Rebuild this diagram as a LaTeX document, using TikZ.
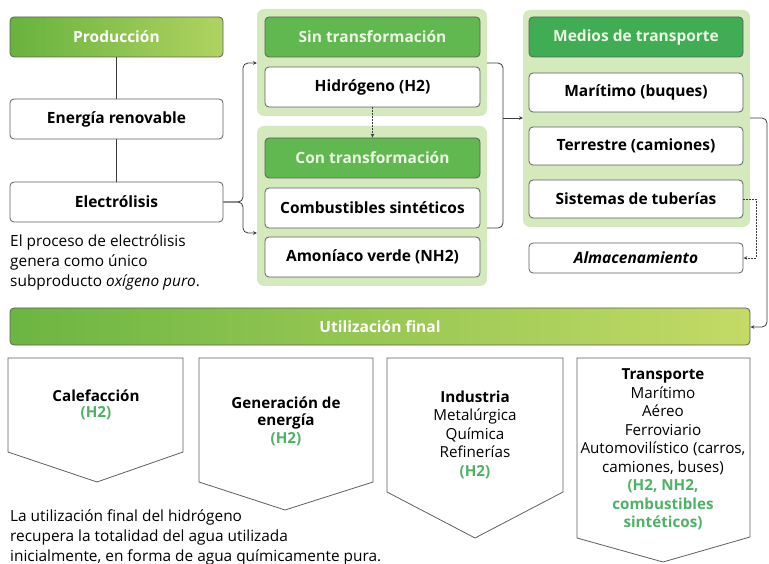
\documentclass[tikz,border=0pt]{standalone}
\usepackage{fontspec}
\setmainfont{Open Sans}
\usetikzlibrary{arrows.meta}
\definecolor{lineC}{RGB}{60,60,60}
\definecolor{boxB}{RGB}{95,95,95}
\definecolor{gDark}{RGB}{104,178,62}
\definecolor{gLight}{RGB}{176,211,96}
\definecolor{uDark}{RGB}{108,181,66}
\definecolor{uLight}{RGB}{196,218,102}
\definecolor{hdrG}{RGB}{98,184,80}
\definecolor{hdrM}{RGB}{64,172,84}
\definecolor{panelG}{RGB}{212,233,188}
\definecolor{txtG}{RGB}{78,178,100}
\definecolor{hdrTxt}{RGB}{236,247,228}
\begin{document}
\begin{tikzpicture}[x=1pt,y=-1pt,
  box/.style={draw=boxB,line width=0.8pt,rounded corners=4pt,fill=white,
    minimum width=213pt,minimum height=40pt,inner sep=0pt,
    font=\fontsize{15.5}{18}\selectfont\bfseries},
  hdr/.style={box,fill=hdrG,text=hdrTxt,draw=boxB},
  grad/.style={draw=boxB,line width=0.8pt,rounded corners=4pt,left color=gDark,right color=gLight,
    minimum width=213pt,minimum height=40pt,inner sep=0pt,text=white,
    font=\fontsize{15.5}{18}\selectfont\bfseries},
  panel/.style={fill=panelG,rounded corners=7pt},
  note/.style={inner sep=0pt,align=left,anchor=west,font=\fontsize{15.4}{20}\selectfont},
  conn/.style={draw=lineC,line width=0.8pt},
  tip/.style={-{Stealth[length=4pt,width=3.6pt]}},
  chev/.style={draw=boxB,line width=0.8pt,fill=white},
  usetxt/.style={inner sep=0pt,align=center,font=\fontsize{15.2}{18.5}\selectfont},
  gtxt/.style={text=txtG}
]
\useasboundingbox (0,0) rectangle (769,564);

% panels
\fill[panel] (257,9) rectangle (487,116);
\fill[panel] (257,126) rectangle (487,286);
\fill[panel] (523,10) rectangle (750,227);
\coordinate (pA) at (487,63);
\coordinate (pB) at (487,228);
\coordinate (pC) at (523,118);
\coordinate (inA) at (257,63);
\coordinate (inB) at (257,233);

% left column
\node[grad] (prod) at (116.5,37) {Producción};
\node[box] (ener) at (116.5,119) {Energía renovable};
\node[box] (elec) at (116.5,202) {Electrólisis};
\node[note] (note1) at (10,262) {El proceso de electrólisis\\genera como único\\subproducto \textit{oxígeno puro}.};

% middle column
\node[hdr,minimum width=215pt] (sin) at (372.5,37) {Sin transformación};
\node[box,minimum width=215pt] (hid) at (372.5,87) {Hidrógeno (H2)};
\node[hdr,minimum width=215pt] (con) at (372.5,158) {Con transformación};
\node[box,minimum width=215pt] (comb) at (372.5,208) {Combustibles sintéticos};
\node[box,minimum width=215pt] (amon) at (372.5,257) {Amoníaco verde (NH2)};

% right column
\node[hdr,fill=hdrM,minimum width=214pt] (med) at (636,37) {Medios de transporte};
\node[box,minimum width=214pt,minimum height=39pt] (mar) at (636,92.5) {Marítimo (buques)};
\node[box,minimum width=214pt,minimum height=38pt] (ter) at (636,146) {Terrestre (camiones)};
\node[box,minimum width=214pt,minimum height=38pt] (sis) at (636,199) {Sistemas de tuberías};
\node[box,minimum width=214pt,minimum height=30pt,font=\fontsize{15.5}{18}\selectfont\bfseries\itshape] (alm) at (636,258) {Almacenamiento};

% utilization bar
\node[grad,left color=uDark,right color=uLight,minimum width=740pt,minimum height=37pt] (util) at (380,326.5) {Utilización final};
\coordinate (pD) at (750,118);

% connectors
\draw[conn] (prod.south) -- (ener.north);
\draw[conn] (ener.south) -- (elec.north);
\draw[conn,tip,rounded corners=5pt] (elec.east) -| (243,63) -- (inA);
\draw[conn,tip,rounded corners=5pt] (elec.east) -| (243,233) -- (inB);
\draw[conn,tip,dashed,dash pattern=on 2pt off 1pt] (hid.south) -- (con.north);
\draw[conn,rounded corners=5pt] (pA) -- (503,63) -- (503,228) -- (pB);
\draw[conn,tip] (503,118) -- (pC);
\draw[conn,tip,rounded corners=5pt] (pD) -- (767,118) -- (767,327) -- (util.east |- 0,327);
\draw[conn,tip,dashed,dash pattern=on 2pt off 1pt] (sis.east) -- (756,199) -- (756,258) -- (alm.east);

% chevrons
\draw[chev] (8,358) -- (183,358) -- (183,452) -- (97,482) -- (8,452) -- cycle;
\draw[chev] (199,358) -- (373,358) -- (373,482) -- (285,510) -- (199,482) -- cycle;
\draw[chev] (387,358) -- (563,358) -- (563,492) -- (475,538) -- (387,492) -- cycle;
\draw[chev] (577,358) -- (750,358) -- (750,537) -- (663,562) -- (577,538) -- cycle;

\node[usetxt,font=\fontsize{15.2}{15.5}\selectfont] (cal) at (96,405) {\textbf{Calefacción}\\\textbf{\textcolor{txtG}{(H2)}}};
\node[usetxt,font=\fontsize{15.2}{17.5}\selectfont] (gen) at (286,421) {\textbf{Generación de}\\\textbf{energía}\\\textbf{\textcolor{txtG}{(H2)}}};
\node[usetxt] (ind) at (475,434.5) {\textbf{Industria}\\Metalúrgica\\Química\\Refinerías\\\textbf{\textcolor{txtG}{(H2)}}};
\node[usetxt] (tra) at (663,449.5) {\textbf{Transporte}\\Marítimo\\Aéreo\\Ferroviario\\Automovilístico (carros,\\camiones, buses)\\\textbf{\textcolor{txtG}{(H2, NH2,}}\\\textbf{\textcolor{txtG}{combustibles}}\\\textbf{\textcolor{txtG}{sintéticos)}}};

\node[note] (note2) at (10,537) {La utilización final del hidrógeno\\recupera la totalidad del agua utilizada\\inicialmente, en forma de agua químicamente pura.};
\end{tikzpicture}
\end{document}
